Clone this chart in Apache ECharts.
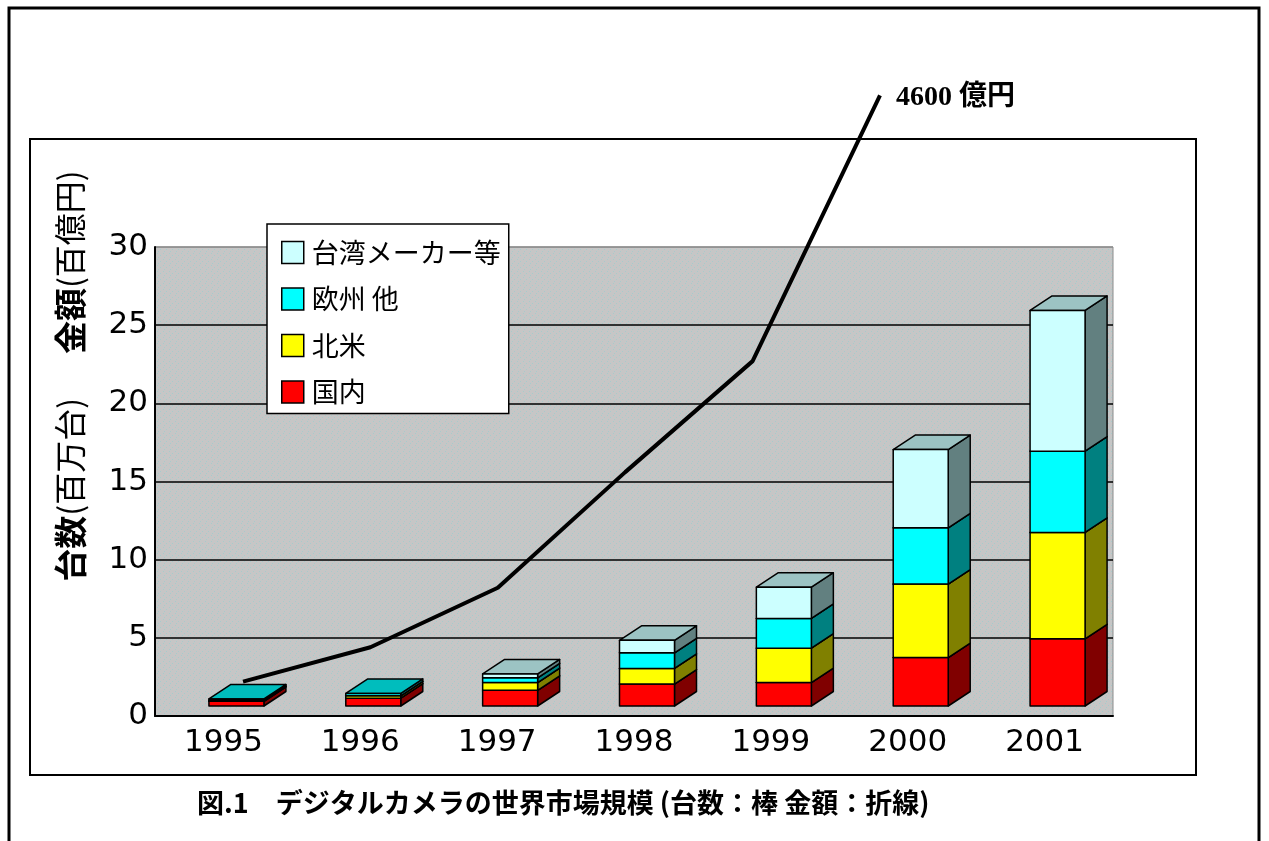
<!DOCTYPE html>
<html>
<head>
<meta charset="utf-8">
<script src="https://cdn.jsdelivr.net/npm/echarts@6/dist/echarts.min.js"></script>
<style>
html, body { margin: 0; background: #fff; }
#chart { width: 1269px; height: 841px; }
</style>
</head>
<body>
<div id="chart"></div>
<script>
// 台数 (百万台), stacked bottom to top
var years = ['1995', '1996', '1997', '1998', '1999', '2000', '2001'];
var domestic = [0.3, 0.5, 1.0, 1.4, 1.5, 3.1, 4.3];        // 国内
var northAmerica = [0.05, 0.15, 0.5, 1.0, 2.2, 4.7, 6.8];  // 北米
var europe = [0.1, 0.15, 0.3, 1.0, 1.9, 3.6, 5.2];         // 欧州 他
var taiwan = [0, 0, 0.25, 0.8, 2.0, 5.0, 9.0];             // 台湾メーカー等
// 金額 (百億円), line
var salesYears = [1995, 1996, 1997, 1998, 1999, 2000];
var sales = [2.2, 4.4, 8.2, 15.6, 22.7, 39.7];
var yTicks = [0, 5, 10, 15, 20, 25, 30];

var stacks = [
  { name: '国内', values: domestic, front: '#ff0000', side: '#800000', top: '#c00000' },
  { name: '北米', values: northAmerica, front: '#ffff00', side: '#808000', top: '#c0c000' },
  { name: '欧州 他', values: europe, front: '#00ffff', side: '#008080', top: '#00bdbd' },
  { name: '台湾メーカー等', values: taiwan, front: '#ccffff', side: '#628080', top: '#9cc3c3' }
];

// dotted gray plot background
var tex = document.createElement('canvas');
tex.width = 6; tex.height = 6;
var tctx = tex.getContext('2d');
tctx.fillStyle = '#c6c6c6';
tctx.fillRect(0, 0, 6, 6);
tctx.fillStyle = '#a6cccc';
tctx.fillRect(1, 1, 1, 1);
tctx.fillRect(4, 3, 1, 1);
tctx.fillRect(2, 5, 1, 1);

function box3d(s) {
  return function (params, api) {
    var i = api.value(0), base = api.value(1), v = api.value(2);
    if (!(v > 0)) return;
    var b = api.coord([i, base]);
    var t = api.coord([i, base + v]);
    var w = 55, dx = 22, dy = 14.5;
    var x0 = b[0] + 13 - w / 2, x1 = x0 + w;
    var yb = b[1] - 10, yt = t[1] - 10;
    var st = function (fill) {
      return { fill: fill, stroke: '#000', lineWidth: 1.5, lineJoin: 'round' };
    };
    return {
      type: 'group',
      children: [
        { type: 'polygon', shape: { points: [[x1, yb], [x1 + dx, yb - dy], [x1 + dx, yt - dy], [x1, yt]] }, style: st(s.side) },
        { type: 'polygon', shape: { points: [[x0, yt], [x1, yt], [x1 + dx, yt - dy], [x0 + dx, yt - dy]] }, style: st(s.top) },
        { type: 'rect', shape: { x: x0, y: yt, width: w, height: yb - yt }, style: st(s.front) }
      ]
    };
  };
}

var cum = years.map(function () { return 0; });
var barSeries = stacks.map(function (s) {
  var data = years.map(function (y, i) {
    var d = [i, cum[i], s.values[i]];
    cum[i] += s.values[i];
    return d;
  });
  return {
    name: s.name,
    type: 'custom',
    renderItem: box3d(s),
    encode: { x: 0, y: 1 },
    itemStyle: { color: s.front },
    silent: true,
    data: data
  };
});

var chart = echarts.init(document.getElementById('chart'));
chart.setOption({
  animation: false,
  backgroundColor: '#fff',
  grid: {
    left: 155, right: 156, top: 247, bottom: 125,
    show: true,
    backgroundColor: { image: tex, repeat: 'repeat' },
    borderColor: '#8c8c8c',
    borderWidth: 1
  },
  legend: {
    orient: 'vertical',
    left: 267, top: 224,
    padding: [15, 8, 8, 14],
    itemWidth: 22, itemHeight: 22, itemGap: 19.5,
    backgroundColor: '#fff',
    borderColor: '#000', borderWidth: 1.5,
    selectedMode: false,
    icon: 'rect',
    itemStyle: { borderColor: '#000', borderWidth: 1.5 },
    textStyle: { fontSize: 27, lineHeight: 24, color: '#000', fontFamily: 'Noto Sans CJK JP', padding: [0, 0, 0, 3] },
    data: ['台湾メーカー等', '欧州 他', '北米', '国内']
  },
  xAxis: [{
    type: 'category',
    data: years,
    axisLine: { lineStyle: { color: '#000', width: 2 } },
    axisTick: { inside: true, length: 7, lineStyle: { color: '#000', width: 1.5 } },
    axisLabel: { fontSize: 31, color: '#000', fontFamily: 'DejaVu Sans', margin: 11 },
    splitLine: { show: false }
  }, {
    type: 'value',
    show: false,
    min: 1994.309,
    max: 2001.829
  }],
  yAxis: {
    type: 'value',
    min: yTicks[0],
    max: yTicks[yTicks.length - 1],
    interval: yTicks[1] - yTicks[0],
    axisLine: { show: true, lineStyle: { color: '#000', width: 2 } },
    axisTick: { show: false },
    axisLabel: { fontSize: 31, color: '#000', fontFamily: 'DejaVu Sans', margin: 7 },
    splitLine: { lineStyle: { color: ['#000', '#000', '#000', '#000', '#000', '#000', '#8c8c8c'], width: 1.5 } }
  },
  series: barSeries.concat([{
    name: '金額',
    type: 'line',
    xAxisIndex: 1,
    data: salesYears.map(function (y, i) { return [y, sales[i]]; }),
    symbol: 'none',
    clip: false,
    silent: true,
    z: 10,
    lineStyle: { color: '#000', width: 4 },
    endLabel: {
      show: true,
      formatter: '4600 億円',
      distance: 16,
      offset: [0, 2],
      fontSize: 28,
      fontWeight: 'bold',
      color: '#000',
      fontFamily: 'Liberation Serif, Noto Sans CJK JP'
    }
  }]),
  graphic: [
    { type: 'rect', shape: { x: 9, y: 8, width: 1250, height: 900 }, style: { fill: 'none', stroke: '#000', lineWidth: 3 }, z: 100 },
    { type: 'rect', shape: { x: 30, y: 139, width: 1166, height: 636 }, style: { fill: 'none', stroke: '#000', lineWidth: 2 }, z: -10 },
    {
      type: 'text', x: 70, y: 376, rotation: Math.PI / 2,
      style: {
        text: '{b|台数}{n|(百万台)}{s| }{b|金額}{n|(百億円)}',
        align: 'center', verticalAlign: 'middle',
        rich: {
          b: { fontSize: 33, fontWeight: 'bold', fontFamily: 'Noto Sans CJK JP', fill: '#000' },
          n: { fontSize: 32, fontFamily: 'Noto Sans CJK JP', fill: '#000' },
          s: { fontSize: 31, width: 44 }
        }
      }
    },
    {
      type: 'text', x: 197, y: 803,
      style: {
        text: '図.1　デジタルカメラの世界市場規模 (台数：棒 金額：折線)',
        fontSize: 27, fontWeight: 'bold', fontFamily: 'Noto Sans CJK JP',
        fill: '#000', align: 'left', verticalAlign: 'middle'
      }
    }
  ]
});
</script>
</body>
</html>
